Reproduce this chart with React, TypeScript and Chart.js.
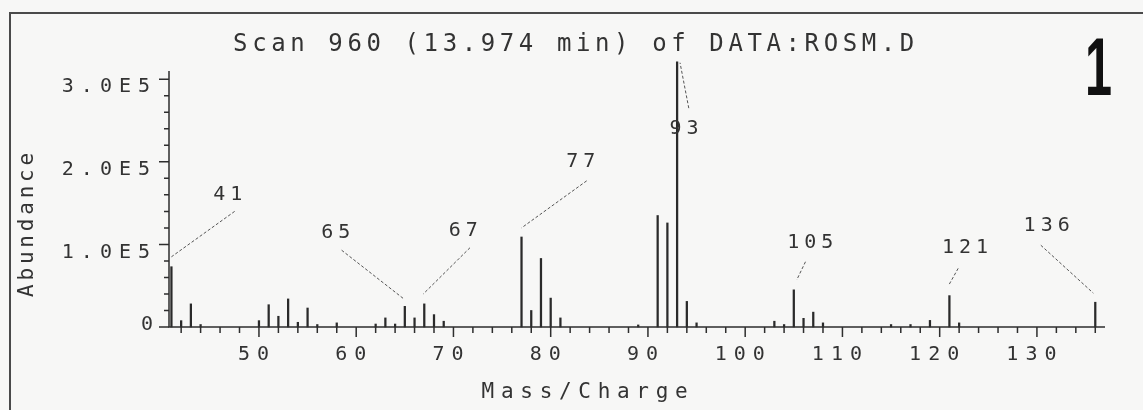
import React, { useEffect, useRef } from 'react';
import { Chart, registerables } from 'chart.js';

Chart.register(...registerables);

// ---- data ----
const MZ = [41, 42, 43, 44, 50, 51, 52, 53, 54, 55, 56, 58, 62, 63, 64, 65, 66, 67, 68, 69, 77, 78, 79, 80, 81, 89, 91, 92, 93, 94, 95, 103, 104, 105, 106, 107, 108, 115, 117, 119, 121, 122, 136];
const ABUNDANCE = [73000, 7700, 28000, 3000, 7700, 27000, 13000, 34000, 5700, 23000, 3000, 5000, 3600, 11000, 3600, 25000, 11000, 28000, 15000, 7000, 109000, 20000, 83000, 35000, 11000, 2500, 135000, 126000, 321000, 31000, 5000, 7000, 3000, 45000, 10500, 18000, 5000, 3000, 3000, 8000, 38000, 5000, 30000];

const X_TICKS = [50, 60, 70, 80, 90, 100, 110, 120, 130];
const Y_TICKS = [100000, 200000, 300000];
const Y_TICK_LABELS = ['1.0E5', '2.0E5', '3.0E5'];
const Y_ZERO_LABEL = '0';

const PEAK_LABELS = ['41', '65', '67', '77', '93', '105', '121', '136'];
const LABEL_MZ = [46.8, 57.9, 71.0, 83.1, 93.7, 106.7, 122.6, 131.0];
const LABEL_AB = [160000, 114000, 117000, 200000, 240000, 102000, 96000, 122000];
const LEADER_FROM_MZ = [47.5, 58.5, 71.7, 83.7, 94.2, 106.2, 121.9, 130.4];
const LEADER_FROM_AB = [140000, 93000, 96000, 177000, 265000, 79000, 71000, 99000];
const LEADER_TO_MZ = [41.0, 64.9, 66.9, 77.0, 93.3, 105.3, 120.9, 135.8];
const LEADER_TO_AB = [85000, 34000, 40000, 120000, 320000, 57000, 50000, 41000];

const TITLE = 'Scan 960 (13.974 min) of DATA:ROSM.D';
const X_TITLE = 'Mass/Charge';
const Y_TITLE = 'Abundance';
const PANEL_NUMBER = '1';

const MONO = '"DejaVu Sans Mono", monospace';
const INK = '#333333';

const plotterPlugin = {
  id: 'plotter',
  beforeUpdate(chart: any) {
    chart.ctx.letterSpacing = '7px';
  },
  beforeDraw(chart: any) {
    const ctx = chart.ctx;
    ctx.save();
    ctx.fillStyle = '#f7f7f6';
    ctx.fillRect(0, 0, chart.width, chart.height);
    // scanned frame
    ctx.strokeStyle = '#4a4a4a';
    ctx.lineWidth = 2;
    ctx.beginPath();
    ctx.moveTo(10, chart.height);
    ctx.lineTo(10, 13);
    ctx.lineTo(chart.width, 13);
    ctx.stroke();
    ctx.restore();
    ctx.letterSpacing = '7px';
  },
  afterDraw(chart: any) {
    const ctx = chart.ctx;
    const xs = chart.scales.x;
    const ys = chart.scales.y;
    const area = chart.chartArea;
    ctx.save();
    ctx.strokeStyle = '#2e2e2e';
    ctx.lineWidth = 1.5;
    // axes
    ctx.beginPath();
    ctx.moveTo(area.left, area.top);
    ctx.lineTo(area.left, area.bottom);
    ctx.lineTo(area.right, area.bottom);
    ctx.stroke();
    // x ticks
    ctx.beginPath();
    for (let v = 42; v <= 136; v += 2) {
      const px = xs.getPixelForValue(v);
      const len = v % 10 === 0 ? 10 : 6;
      ctx.moveTo(px, area.bottom);
      ctx.lineTo(px, area.bottom + len);
    }
    // y ticks
    for (let v = 0; v <= 300000; v += 20000) {
      const py = ys.getPixelForValue(v);
      const len = v % 100000 === 0 ? 10 : 5;
      ctx.moveTo(area.left, py);
      ctx.lineTo(area.left - len, py);
    }
    ctx.stroke();

    // leader lines
    ctx.strokeStyle = '#555';
    ctx.lineWidth = 1;
    ctx.setLineDash([3, 2]);
    ctx.beginPath();
    for (let i = 0; i < PEAK_LABELS.length; i++) {
      ctx.moveTo(xs.getPixelForValue(LEADER_FROM_MZ[i]), ys.getPixelForValue(LEADER_FROM_AB[i]));
      ctx.lineTo(xs.getPixelForValue(LEADER_TO_MZ[i]), ys.getPixelForValue(LEADER_TO_AB[i]));
    }
    ctx.stroke();
    ctx.setLineDash([]);

    ctx.fillStyle = INK;
    // peak labels
    ctx.font = `20px ${MONO}`;
    ctx.letterSpacing = '5px';
    ctx.textAlign = 'center';
    ctx.textBaseline = 'middle';
    for (let i = 0; i < PEAK_LABELS.length; i++) {
      ctx.fillText(PEAK_LABELS[i], xs.getPixelForValue(LABEL_MZ[i]) + 2.5, ys.getPixelForValue(LABEL_AB[i]));
    }

    // zero label of y axis
    ctx.letterSpacing = '0px';
    ctx.textAlign = 'right';
    ctx.fillText(Y_ZERO_LABEL, area.left - 16, ys.getPixelForValue(0) - 2);

    // title
    ctx.font = `24px ${MONO}`;
    ctx.letterSpacing = '4.6px';
    ctx.textAlign = 'center';
    ctx.textBaseline = 'alphabetic';
    ctx.fillText(TITLE, 576, 51);

    // x title
    ctx.font = `21px ${MONO}`;
    ctx.letterSpacing = '6.7px';
    ctx.fillText(X_TITLE, 588, 398);

    // y title
    ctx.letterSpacing = '3.8px';
    ctx.save();
    ctx.translate(33, 223);
    ctx.rotate(-Math.PI / 2);
    ctx.fillText(Y_TITLE, 0, 0);
    ctx.restore();

    // panel number
    ctx.letterSpacing = '0px';
    ctx.fillStyle = '#111';
    ctx.font = `bold 81px "Liberation Sans", Arial, sans-serif`;
    ctx.save();
    ctx.translate(1112, 95);
    ctx.scale(0.6, 1);
    ctx.textAlign = 'right';
    ctx.fillText(PANEL_NUMBER, 0, 0);
    ctx.restore();

    ctx.restore();
  },
};

export default function App() {
  const ref = useRef<HTMLCanvasElement | null>(null);

  useEffect(() => {
    document.body.style.margin = '0';
    const canvas = ref.current;
    if (!canvas) return;
    const chart = new Chart(canvas, {
      type: 'bar',
      data: {
        datasets: [
          {
            data: MZ.map((m, i) => ({ x: m, y: ABUNDANCE[i] })),
            backgroundColor: '#2a2a2a',
            borderWidth: 0,
            barThickness: 1.6,
            clip: false,
          } as any,
        ],
      },
      options: {
        animation: false,
        responsive: false,
        devicePixelRatio: 1,
        layout: { padding: { top: 71, right: 38, left: 0, bottom: 0 } },
        plugins: {
          legend: { display: false },
          tooltip: { enabled: false },
          title: { display: false },
        },
        scales: {
          x: {
            type: 'linear',
            min: 40.75,
            max: 137,
            offset: false,
            grid: { display: false, drawTicks: false, offset: false },
            border: { display: false },
            afterBuildTicks: (s: any) => {
              s.ticks = X_TICKS.map((v) => ({ value: v }));
            },
            afterFit: (s: any) => {
              s.height = 83;
            },
            ticks: {
              autoSkip: false,
              maxRotation: 0,
              padding: 16,
              labelOffset: -2,
              color: INK,
              font: { family: MONO, size: 20 },
              callback: (v: any) => String(v),
            },
          },
          y: {
            type: 'linear',
            min: 0,
            max: 310000,
            grid: { display: false, drawTicks: false },
            border: { display: false },
            afterBuildTicks: (s: any) => {
              s.ticks = Y_TICKS.map((v) => ({ value: v }));
            },
            afterFit: (s: any) => {
              s.width = 169;
            },
            ticks: {
              padding: 12,
              labelOffset: 8,
              color: INK,
              font: { family: MONO, size: 20 },
              callback: (v: any) => {
                const i = Y_TICKS.indexOf(Number(v));
                return i >= 0 ? Y_TICK_LABELS[i] : '';
              },
            },
          },
        },
      } as any,
      plugins: [plotterPlugin],
    });
    return () => chart.destroy();
  }, []);

  return (
    <div style={{ width: 1143, height: 410 }}>
      <canvas ref={ref} width={1143} height={410} style={{ display: 'block' }} />
    </div>
  );
}
